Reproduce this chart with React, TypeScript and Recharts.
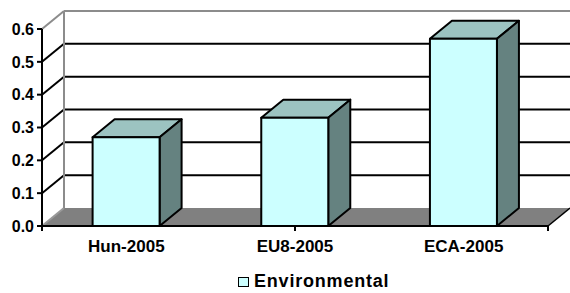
import { Bar, BarChart, CartesianGrid, Legend, XAxis, YAxis } from "recharts";

const categories = ["Hun-2005", "EU8-2005", "ECA-2005"];
const environmental = [0.27, 0.33, 0.57];
const yTicks = [0, 0.1, 0.2, 0.3, 0.4, 0.5, 0.6];
const bandEdges = [0, 1, 2, 3];
const seriesName = "Environmental";

const data = categories.map((name, i) => ({ name, environmental: environmental[i] }));

// depth of the fake 3d box
const DX = 22;
const DY = -18;
const font = "'Liberation Sans', Arial, sans-serif";
const tickFont = { fill: "#000", fontSize: 16, fontWeight: 700, fontFamily: font };

function Box3D(props: any) {
  const { x, y, width: w, height: h } = props;
  return (
    <g stroke="#000" strokeWidth={2} strokeLinejoin="round">
      <polygon points={`${x},${y} ${x + DX},${y + DY} ${x + w + DX},${y + DY} ${x + w},${y}`} fill="#9cc3c1" />
      <polygon points={`${x + w},${y} ${x + w + DX},${y + DY} ${x + w + DX},${y + h + DY} ${x + w},${y + h}`} fill="#658280" />
      <rect x={x} y={y} width={w} height={h} fill="#ccffff" />
    </g>
  );
}

function gridLine(props: any) {
  const { x1, x2, y1, index } = props;
  if (index === 0) {
    // floor
    return (
      <g key={props.key}>
        <polygon points={`${x1},${y1} ${x1 + DX},${y1 + DY} ${x2 + DX},${y1 + DY} ${x2},${y1}`} fill="#808080" />
        <line x1={x1} y1={y1} x2={x1 + DX} y2={y1 + DY} stroke="#999" strokeWidth={2} />
        <line x1={x2} y1={y1} x2={x2 + DX} y2={y1 + DY} stroke="#000" strokeWidth={1.5} />
      </g>
    );
  }
  const top = index === yTicks.length - 1;
  const stroke = top ? "#8c8c8c" : "#000";
  return (
    <g key={props.key} stroke={stroke} strokeWidth={2}>
      <line x1={x1} y1={y1} x2={x1 + DX} y2={y1 + DY} />
      <line x1={x1 + DX} y1={y1 + DY} x2={x2 + DX} y2={y1 + DY} />
    </g>
  );
}

// band edges: back-left wall edge plus the small ticks under the axis
function bandEdge(props: any) {
  const { x1, y1, y2, index } = props;
  return (
    <g key={props.key}>
      {index === 0 && <line x1={x1 + DX} y1={y1 + DY} x2={x1 + DX} y2={y2 + DY} stroke="#8c8c8c" strokeWidth={2} />}
      <line x1={x1} y1={y2} x2={x1} y2={y2 + 5} stroke="#000" strokeWidth={2} />
    </g>
  );
}

function LegendBox({ payload }: any) {
  return (
    <div style={{ display: "flex", alignItems: "center", fontFamily: font, fontWeight: 700, fontSize: 18, letterSpacing: 0.8, color: "#000" }}>
      {(payload || []).map((p: any) => (
        <span key={p.value} style={{ display: "flex", alignItems: "center" }}>
          <span style={{ width: 9, height: 8, border: "1.5px solid #000", background: "#ccffff", marginRight: 5 }} />
          {p.value}
        </span>
      ))}
    </div>
  );
}

export default function App() {
  return (
    <div style={{ width: 570, height: 293 }}>
      <style>{"body{margin:0}"}</style>
      <BarChart width={570} height={293} data={data} margin={{ top: 29, right: 22, left: 0, bottom: 37 }} barCategoryGap="30%">
        <CartesianGrid xAxisId="b" horizontal={gridLine} vertical={bandEdge} />
        <XAxis xAxisId="b" type="number" hide domain={[0, 3]} allowDataOverflow ticks={bandEdges} />
        <XAxis dataKey="name" height={30} axisLine={{ stroke: "#000", strokeWidth: 2 }} tickLine={false} tickSize={5} tickMargin={9} tick={{ ...tickFont, fontSize: 17 }} />
        <YAxis domain={[0, 0.6]} ticks={yTicks} width={42} tickFormatter={(v: number) => v.toFixed(1)} axisLine={{ stroke: "#000", strokeWidth: 2 }} tickLine={{ stroke: "#000", strokeWidth: 2 }} tickSize={5} tickMargin={3} tick={tickFont} />
        <Legend layout="vertical" align="center" verticalAlign="middle" content={LegendBox} wrapperStyle={{ left: 238, top: 271, width: "auto" }} />
        <Bar dataKey="environmental" name={seriesName} shape={Box3D} isAnimationActive={false} />
      </BarChart>
    </div>
  );
}
